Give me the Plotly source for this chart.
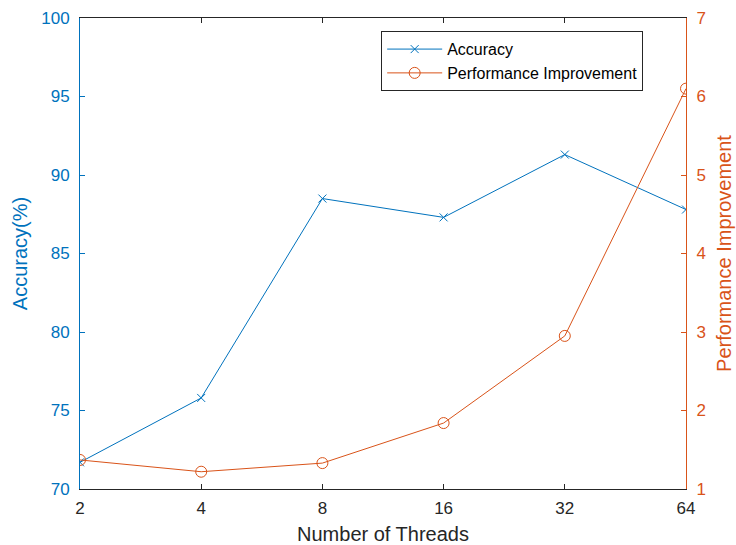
import plotly.graph_objects as go

threads = [2, 4, 8, 16, 32, 64]
accuracy = [71.7, 75.8, 88.5, 87.3, 91.3, 87.8]
perf_improvement = [1.37, 1.22, 1.33, 1.84, 2.95, 6.10]
tick_labels = ["2", "4", "8", "16", "32", "64"]

BLUE = "#0072BD"
ORANGE = "#D95319"
DARK = "#262626"
FONT = "Liberation Sans, Arial, Helvetica, sans-serif"

fig = go.Figure()
fig.add_trace(go.Scatter(
    x=threads, y=accuracy, name="Accuracy", mode="lines+markers",
    line=dict(color=BLUE, width=1),
    marker=dict(symbol="x-thin-open", size=8, line=dict(color=BLUE, width=1)),
    yaxis="y",
))
fig.add_trace(go.Scatter(
    x=threads, y=perf_improvement, name="Performance Improvement", mode="lines+markers",
    line=dict(color=ORANGE, width=1),
    marker=dict(symbol="circle-open", size=11, line=dict(color=ORANGE, width=1)),
    yaxis="y2",
))

# narrow white strips just outside the plot box so edge markers are clipped at it
for x0, x1, y0, y1 in [(-0.011, -0.0022, 0.03, 0.99), (1.0022, 1.011, 0.3, 0.99)]:
    fig.add_shape(type="rect", xref="paper", yref="paper",
                  x0=x0, x1=x1, y0=y0, y1=y1,
                  fillcolor="white", line=dict(width=0), layer="above")

fig.update_layout(
    width=736, height=545,
    margin=dict(l=80, r=50, t=18, b=56, autoexpand=False),
    paper_bgcolor="white", plot_bgcolor="white",
    font=dict(family=FONT, size=17, color=DARK),
    showlegend=True,
    legend=dict(
        x=0.497, y=0.972, xanchor="left", yanchor="top",
        bgcolor="white", bordercolor=DARK, borderwidth=1,
        font=dict(size=16, color="black"),
        tracegroupgap=0, itemwidth=55,
    ),
    xaxis=dict(
        type="log", range=[0.30103, 1.80618],
        tickvals=threads, ticktext=tick_labels,
        ticks="inside", ticklen=5, tickcolor=DARK,
        showline=True, linecolor=DARK, linewidth=1, mirror="ticks",
        showgrid=False, zeroline=False, ticklabelstandoff=4,
        tickfont=dict(size=17, color=DARK),
        title=dict(text="Number of Threads", font=dict(size=20, color=DARK), standoff=9),
    ),
    yaxis=dict(
        range=[70, 100], dtick=5,
        ticks="inside", ticklen=5, tickcolor=BLUE,
        showline=True, linecolor=BLUE, linewidth=1,
        showgrid=False, zeroline=False, ticklabelstandoff=6,
        tickfont=dict(size=17, color=BLUE),
        title=dict(text="Accuracy(%)", font=dict(size=20, color=BLUE), standoff=8),
    ),
    yaxis2=dict(
        range=[1, 7], dtick=1, overlaying="y", side="right",
        ticks="inside", ticklen=5, tickcolor=ORANGE,
        showline=True, linecolor=ORANGE, linewidth=1,
        showgrid=False, zeroline=False, ticklabelstandoff=6,
        tickfont=dict(size=17, color=ORANGE),
        title=dict(text="Performance Improvement", font=dict(size=20, color=ORANGE), standoff=12),
    ),
)

fig.write_html("out.html")
